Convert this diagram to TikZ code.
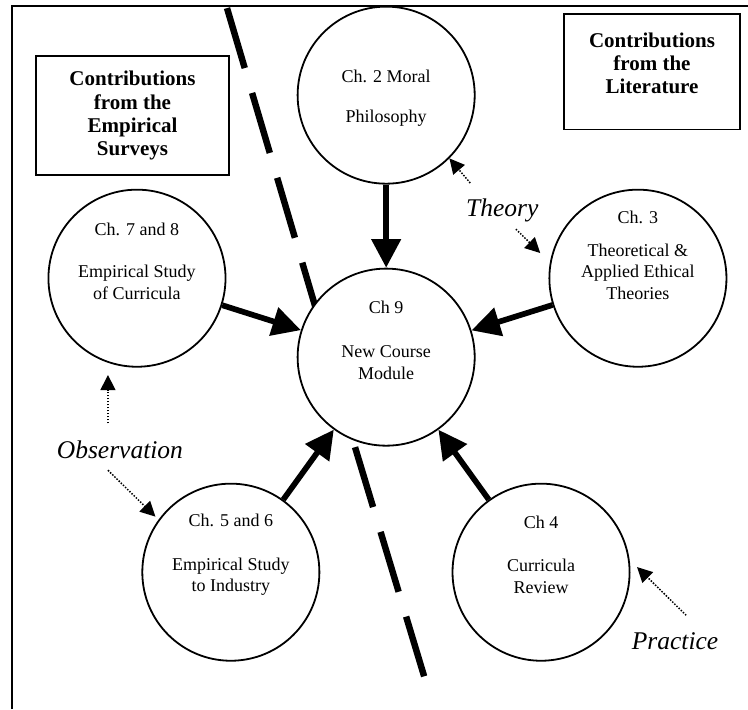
\documentclass[tikz,border=0pt]{standalone}
\usepackage{fontspec}
\setmainfont{Liberation Serif}
\usetikzlibrary{arrows.meta}

\begin{document}
\begin{tikzpicture}[
  chap/.style={draw,circle,line width=1.2pt,fill=white,minimum size=4.15cm,inner sep=0pt},
  chaptext/.style={align=center,font=\fontsize{12}{14.5}\selectfont},
  infobox/.style={draw,line width=1pt,align=center,font=\bfseries\fontsize{14}{15.5}\selectfont},
  method/.style={font=\itshape\fontsize{17}{20}\selectfont},
  feed/.style={line width=3.8pt,-{Triangle[length=19pt,width=19pt]}},
  hint/.style={line width=1pt,dash pattern=on 1pt off 1pt,-{Triangle[length=10pt,width=10pt]}},
  divider/.style={line width=4.3pt,dash pattern=on 41.7pt off 17.3pt}
]
  \useasboundingbox (0,0) rectangle (17.53,16.62);
  \draw[line width=1pt] (0.28,0) |- (17.53,16.48);

  \coordinate (dtop) at (5.32,16.43);
  \coordinate (dmid) at (7.62,8.65);
  \coordinate (dlow) at (8.32,6.14);
  \coordinate (dbot) at (9.94,0.77);
  \draw[divider] (dtop) -- (dmid);
  \draw[divider] (dlow) -- (dbot);

  \node[infobox,minimum width=4.52cm,minimum height=2.79cm] (emp) at (3.105,13.91) {Contributions\\from the\\Empirical\\Surveys};
  \node[infobox,minimum width=4.125cm,minimum height=2.70cm] (lit) at (15.28,14.94) {};
  \node[infobox,draw=none] (litt) at ([yshift=.19cm]lit.center) {Contributions\\from the\\Literature};

  \node[chap] (c2) at (9.05,14.39) {};
  \node[chap] (c9) at (9.05,8.25) {};
  \node[chap] (c3) at (14.95,10.10) {};
  \node[chap] (c78) at (3.21,10.10) {};
  \node[chap] (c56) at (5.41,3.21) {};
  \node[chap] (c4) at (12.68,3.21) {};

  \node[chaptext] (c2t) at ([yshift=-.07cm]c2.center) {Ch. 2 Moral\\[12pt]Philosophy};
  \node[chaptext] (c9t) at ([yshift=.39cm]c9.center) {Ch 9\\[14.8pt]New Course\\Module};
  \node[chaptext] (c3t) at ([yshift=.53cm]c3.center) {Ch. 3\\[7pt]Theoretical \&\\Applied Ethical\\Theories};
  \node[chaptext] (c78t) at ([yshift=.39cm]c78.center) {Ch. 7 and 8\\[13.5pt]Empirical Study\\of Curricula};
  \node[chaptext] (c56t) at ([yshift=.41cm]c56.center) {Ch. 5 and 6\\[14.8pt]Empirical Study\\to Industry};
  \node[chaptext] (c4t) at ([yshift=.41cm]c4.center) {Ch 4\\[14.8pt]Curricula\\Review};

  \draw[feed] (c2) -- (c9);
  \draw[feed] (c78) -- (c9);
  \draw[feed] (c3) -- (c9);
  \draw[feed] (c56) -- (c9);
  \draw[feed] (c4) -- (c9);

  \node[method] (theory) at (11.77,11.69) {Theory};
  \node[method] (obs) at (2.81,6.09) {Observation};
  \node[method] (prac) at (15.82,1.59) {Practice};

  \coordinate (thA) at (11.02,12.33);
  \coordinate (thB) at (12.09,11.25);
  \coordinate (thBend) at (12.66,10.69);
  \coordinate (obA) at (2.53,6.70);
  \coordinate (obAend) at (2.53,7.83);
  \coordinate (obB) at (2.53,5.60);
  \coordinate (pr) at (16.08,2.20);
  \coordinate (prend) at (14.93,3.33);
  \draw[hint] (thA) -- (c2.-45);
  \draw[hint] (thB) -- (thBend);
  \draw[hint] (obA) -- (obAend);
  \draw[hint,shorten >=0.1cm] (obB) -- (c56.144);
  \draw[hint] (pr) -- (prend);
\end{tikzpicture}
\end{document}
